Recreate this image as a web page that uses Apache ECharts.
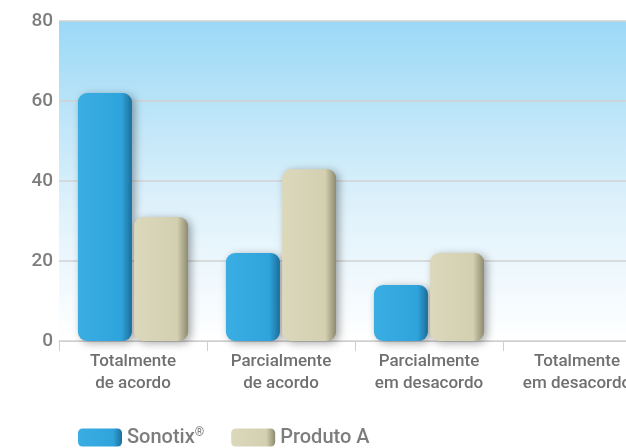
<!DOCTYPE html>
<html>
<head>
<meta charset="utf-8">
<script src="https://cdn.jsdelivr.net/npm/echarts@6/dist/echarts.min.js"></script>
<style>
  html, body { margin: 0; padding: 0; background: #fff; }
  #chart { width: 626px; height: 448px; }
</style>
</head>
<body>
<div id="chart"></div>
<script>
// categorias e valores
var categories = ['Totalmente\nde acordo', 'Parcialmente\nde acordo', 'Parcialmente\nem desacordo', 'Totalmente\nem desacordo']
var sonotix = [62, 22, 14, 0]
var produtoA = [31, 43, 22, 0]
var yTicks = [0, 20, 40, 60, 80]

var chart = echarts.init(document.getElementById('chart'))

// sombra dos pilares
function barStyle(light, mid, dark) {
  return {
    color: new echarts.graphic.LinearGradient(0, 0, 1, 0, [
      { offset: 0, color: light },
      { offset: 0.8, color: mid },
      { offset: 1, color: dark }
    ]),
    borderRadius: 9,
    shadowBlur: 8,
    shadowColor: 'rgba(0,0,0,0.35)',
    shadowOffsetX: 3,
    shadowOffsetY: 2
  }
}

var option = {
  animation: false,
  textStyle: { fontFamily: 'Roboto' },
  grid: {
    left: 59,
    right: -25, // o último grupo sai do quadro
    top: 21,
    bottom: 107,
    outerBoundsMode: 'none',
    show: true,
    borderWidth: 0,
    backgroundColor: new echarts.graphic.LinearGradient(0, 0, 0, 1, [
      { offset: 0, color: '#9bd9f6' },
      { offset: 0.6, color: '#e0f2fb' },
      { offset: 1, color: '#ffffff' }
    ])
  },
  legend: {
    left: 78,
    top: 427,
    padding: 0,
    itemWidth: 44,
    itemHeight: 18,
    itemGap: 27,
    icon: 'roundRect',
    data: ['Sonotix', 'Produto A'],
    formatter: function (name) {
      return name === 'Sonotix' ? 'Sonotix{sup|®}' : name
    },
    textStyle: {
      fontSize: 20,
      color: '#7d7d7d',
      fontWeight: 500,
      rich: {
        sup: { fontSize: 12, color: '#7d7d7d', verticalAlign: 'top', padding: [0, 0, 9, 0] }
      }
    }
  },
  xAxis: {
    type: 'category',
    data: categories,
    axisLine: { lineStyle: { color: '#cfcfcf', width: 1 } },
    axisTick: { show: true, length: 10, lineStyle: { color: '#cfcfcf' } },
    axisLabel: {
      color: '#707070',
      fontSize: 17,
      fontWeight: 500,
      lineHeight: 22,
      margin: 10
    }
  },
  yAxis: {
    type: 'value',
    min: yTicks[0],
    max: yTicks[yTicks.length - 1],
    interval: 20,
    axisLine: { show: false },
    axisTick: { show: false },
    axisLabel: { color: '#7d7d7d', fontSize: 19, fontWeight: 500, margin: 6 },
    splitLine: { lineStyle: { color: '#d2d2d2', width: 1.5 } }
  },
  series: [
    {
      name: 'Sonotix',
      type: 'bar',
      data: sonotix,
      barWidth: 54,
      barGap: '4%',
      itemStyle: barStyle('#3aaee3', '#2fa4dc', '#1c6f9c')
    },
    {
      name: 'Produto A',
      type: 'bar',
      data: produtoA,
      barWidth: 54,
      barGap: '4%',
      itemStyle: barStyle('#dcd8bc', '#d3cfb0', '#8d8a70')
    }
  ]
}

chart.setOption(option)
</script>
</body>
</html>
